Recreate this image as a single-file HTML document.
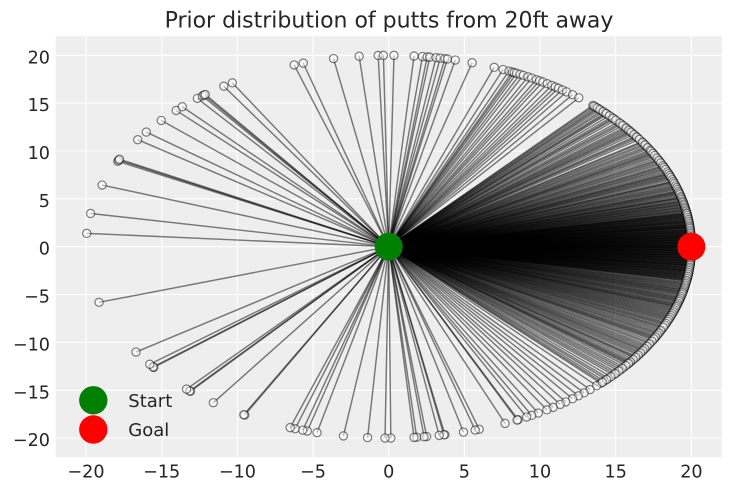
<!DOCTYPE html>
<html><head><meta charset="utf-8"><style>
html,body{margin:0;padding:0;background:#fff;}
svg{display:block;font-family:"DejaVu Sans","Liberation Sans",sans-serif;}
.L line{vector-effect:non-scaling-stroke;}
</style></head><body>
<svg width="731" height="491" viewBox="0 0 731 491" xmlns="http://www.w3.org/2000/svg">
<defs><circle id="c" r="4.1" transform="scale(.066068 .104515)"/></defs>
<rect width="731" height="491" fill="#fff"/>
<rect x="55.7" y="36.2" width="666" height="421" fill="#eeeeee"/>
<g stroke="#fff" stroke-width="1.1">
<line x1="85.98" y1="36.2" x2="85.98" y2="457.2"/><line x1="161.7" y1="36.2" x2="161.7" y2="457.2"/><line x1="237.4" y1="36.2" x2="237.4" y2="457.2"/><line x1="313" y1="36.2" x2="313" y2="457.2"/><line x1="388.7" y1="36.2" x2="388.7" y2="457.2"/><line x1="464.4" y1="36.2" x2="464.4" y2="457.2"/><line x1="540" y1="36.2" x2="540" y2="457.2"/><line x1="615.7" y1="36.2" x2="615.7" y2="457.2"/><line x1="691.4" y1="36.2" x2="691.4" y2="457.2"/>
<line x1="55.7" y1="55.3" x2="721.7" y2="55.3"/><line x1="55.7" y1="103.1" x2="721.7" y2="103.1"/><line x1="55.7" y1="151" x2="721.7" y2="151"/><line x1="55.7" y1="198.9" x2="721.7" y2="198.9"/><line x1="55.7" y1="246.7" x2="721.7" y2="246.7"/><line x1="55.7" y1="294.5" x2="721.7" y2="294.5"/><line x1="55.7" y1="342.4" x2="721.7" y2="342.4"/><line x1="55.7" y1="390.3" x2="721.7" y2="390.3"/><line x1="55.7" y1="438.1" x2="721.7" y2="438.1"/>
</g>
<g transform="translate(388.7 246.7) scale(15.136 -9.568)">
<g class="L" stroke="#000" stroke-opacity=".5" stroke-width="1.45" fill="none">
<line x2="20" transform="rotate(176)"/><line x2="20" transform="rotate(170)"/><line x2="20" transform="rotate(161.2)"/><line x2="20" transform="rotate(153.5)"/><line x2="20" transform="rotate(153.1)"/><line x2="20" transform="rotate(152.8)"/><line x2="20" transform="rotate(146)"/><line x2="20" transform="rotate(143.2)"/><line x2="20" transform="rotate(138.7)"/><line x2="20" transform="rotate(134.6)"/><line x2="20" transform="rotate(133)"/><line x2="20" transform="rotate(129.2)"/><line x2="20" transform="rotate(128)"/><line x2="20" transform="rotate(127.6)"/><line x2="20" transform="rotate(127.3)"/><line x2="20" transform="rotate(123)"/><line x2="20" transform="rotate(121.1)"/><line x2="20" transform="rotate(108.2)"/><line x2="20" transform="rotate(106.4)"/><line x2="20" transform="rotate(100.5)"/><line x2="20" transform="rotate(95.6)"/><line x2="20" transform="rotate(92)"/><line x2="20" transform="rotate(91)"/><line x2="20" transform="rotate(89)"/><line x2="20" transform="rotate(85.2)"/><line x2="20" transform="rotate(83.6)"/><line x2="20" transform="rotate(82.7)"/><line x2="20" transform="rotate(82.2)"/><line x2="20" transform="rotate(81)"/><line x2="20" transform="rotate(80.2)"/><line x2="20" transform="rotate(79.3)"/><line x2="20" transform="rotate(78.8)"/><line x2="20" transform="rotate(77.3)"/><line x2="20" transform="rotate(74)"/><line x2="20" transform="rotate(69.6)"/><line x2="20" transform="rotate(67.8)"/><line x2="20" transform="rotate(66.6)"/><line x2="20" transform="rotate(65.9)"/><line x2="20" transform="rotate(65.5)"/><line x2="20" transform="rotate(65)"/><line x2="20" transform="rotate(64.3)"/><line x2="20" transform="rotate(63.6)"/><line x2="20" transform="rotate(62.6)"/><line x2="20" transform="rotate(61.8)"/><line x2="20" transform="rotate(60.8)"/><line x2="20" transform="rotate(60.1)"/><line x2="20" transform="rotate(59.4)"/><line x2="20" transform="rotate(58.4)"/><line x2="20" transform="rotate(57.4)"/><line x2="20" transform="rotate(56.6)"/><line x2="20" transform="rotate(55.9)"/><line x2="20" transform="rotate(55)"/><line x2="20" transform="rotate(54)"/><line x2="20" transform="rotate(52.6)"/><line x2="20" transform="rotate(51.1)"/>
<line x2="20" transform="rotate(47.6)"/><line x2="20" transform="rotate(46.9)"/><line x2="20" transform="rotate(46.2)"/><line x2="20" transform="rotate(45.3)"/><line x2="20" transform="rotate(44.4)"/><line x2="20" transform="rotate(43.8)"/><line x2="20" transform="rotate(42.6)"/><line x2="20" transform="rotate(41.9)"/><line x2="20" transform="rotate(40.7)"/><line x2="20" transform="rotate(39.8)"/><line x2="20" transform="rotate(38.7)"/><line x2="20" transform="rotate(37.9)"/><line x2="20" transform="rotate(37.1)"/><line x2="20" transform="rotate(36.4)"/><line x2="20" transform="rotate(35.3)"/><line x2="20" transform="rotate(34.6)"/><line x2="20" transform="rotate(33.3)"/><line x2="20" transform="rotate(32.5)"/><line x2="20" transform="rotate(31.6)"/><line x2="20" transform="rotate(30.8)"/><line x2="20" transform="rotate(29.5)"/><line x2="20" transform="rotate(28.9)"/><line x2="20" transform="rotate(28.1)"/><line x2="20" transform="rotate(27.1)"/><line x2="20" transform="rotate(26.4)"/><line x2="20" transform="rotate(25.6)"/>
<line x2="20" transform="rotate(24.8)"/><line x2="20" transform="rotate(24.1)"/><line x2="20" transform="rotate(23.4)"/><line x2="20" transform="rotate(22.6)"/><line x2="20" transform="rotate(22.1)"/><line x2="20" transform="rotate(21.5)"/><line x2="20" transform="rotate(20.9)"/><line x2="20" transform="rotate(20)"/><line x2="20" transform="rotate(19.6)"/><line x2="20" transform="rotate(18.9)"/><line x2="20" transform="rotate(18.3)"/><line x2="20" transform="rotate(17.7)"/><line x2="20" transform="rotate(17)"/><line x2="20" transform="rotate(16.6)"/><line x2="20" transform="rotate(16.1)"/><line x2="20" transform="rotate(15.5)"/><line x2="20" transform="rotate(14.9)"/><line x2="20" transform="rotate(14.6)"/><line x2="20" transform="rotate(14)"/><line x2="20" transform="rotate(13.6)"/><line x2="20" transform="rotate(13.1)"/><line x2="20" transform="rotate(12.7)"/><line x2="20" transform="rotate(12.2)"/><line x2="20" transform="rotate(11.8)"/><line x2="20" transform="rotate(11.3)"/><line x2="20" transform="rotate(10.9)"/><line x2="20" transform="rotate(10.4)"/><line x2="20" transform="rotate(10.1)"/>
<line x2="20" transform="rotate(9.8)"/><line x2="20" transform="rotate(9.5)"/><line x2="20" transform="rotate(9.2)"/><line x2="20" transform="rotate(8.9)"/><line x2="20" transform="rotate(8.6)"/><line x2="20" transform="rotate(8.3)"/><line x2="20" transform="rotate(8)"/><line x2="20" transform="rotate(7.7)"/><line x2="20" transform="rotate(7.5)"/><line x2="20" transform="rotate(7.2)"/><line x2="20" transform="rotate(6.9)"/><line x2="20" transform="rotate(6.6)"/><line x2="20" transform="rotate(6.4)"/><line x2="20" transform="rotate(6.1)"/><line x2="20" transform="rotate(5.9)"/><line x2="20" transform="rotate(5.7)"/><line x2="20" transform="rotate(5.4)"/><line x2="20" transform="rotate(5.1)"/><line x2="20" transform="rotate(4.9)"/><line x2="20" transform="rotate(4.6)"/><line x2="20" transform="rotate(4.4)"/><line x2="20" transform="rotate(4.1)"/><line x2="20" transform="rotate(3.9)"/><line x2="20" transform="rotate(3.6)"/><line x2="20" transform="rotate(3.4)"/><line x2="20" transform="rotate(3.2)"/><line x2="20" transform="rotate(2.9)"/><line x2="20" transform="rotate(2.7)"/><line x2="20" transform="rotate(2.5)"/><line x2="20" transform="rotate(2.2)"/><line x2="20" transform="rotate(2)"/><line x2="20" transform="rotate(1.8)"/><line x2="20" transform="rotate(1.5)"/><line x2="20" transform="rotate(1.3)"/><line x2="20" transform="rotate(1.1)"/><line x2="20" transform="rotate(0.9)"/><line x2="20" transform="rotate(0.6)"/><line x2="20" transform="rotate(0.4)"/><line x2="20" transform="rotate(0.2)"/><line x2="20" transform="rotate(0)"/>
<line x2="20" transform="rotate(-0.1)"/><line x2="20" transform="rotate(-0.3)"/><line x2="20" transform="rotate(-0.5)"/><line x2="20" transform="rotate(-0.8)"/><line x2="20" transform="rotate(-1)"/><line x2="20" transform="rotate(-1.2)"/><line x2="20" transform="rotate(-1.4)"/><line x2="20" transform="rotate(-1.7)"/><line x2="20" transform="rotate(-1.9)"/><line x2="20" transform="rotate(-2.1)"/><line x2="20" transform="rotate(-2.4)"/><line x2="20" transform="rotate(-2.6)"/><line x2="20" transform="rotate(-2.8)"/><line x2="20" transform="rotate(-3.1)"/><line x2="20" transform="rotate(-3.3)"/><line x2="20" transform="rotate(-3.5)"/><line x2="20" transform="rotate(-3.8)"/><line x2="20" transform="rotate(-4)"/><line x2="20" transform="rotate(-4.3)"/><line x2="20" transform="rotate(-4.5)"/><line x2="20" transform="rotate(-4.8)"/><line x2="20" transform="rotate(-5)"/><line x2="20" transform="rotate(-5.3)"/><line x2="20" transform="rotate(-5.5)"/><line x2="20" transform="rotate(-5.7)"/><line x2="20" transform="rotate(-6)"/><line x2="20" transform="rotate(-6.3)"/><line x2="20" transform="rotate(-6.5)"/><line x2="20" transform="rotate(-6.8)"/><line x2="20" transform="rotate(-7.1)"/><line x2="20" transform="rotate(-7.3)"/><line x2="20" transform="rotate(-7.6)"/><line x2="20" transform="rotate(-7.9)"/><line x2="20" transform="rotate(-8.2)"/><line x2="20" transform="rotate(-8.5)"/><line x2="20" transform="rotate(-8.8)"/><line x2="20" transform="rotate(-9.1)"/><line x2="20" transform="rotate(-9.4)"/><line x2="20" transform="rotate(-9.7)"/><line x2="20" transform="rotate(-10)"/>
<line x2="20" transform="rotate(-10.3)"/><line x2="20" transform="rotate(-10.9)"/><line x2="20" transform="rotate(-11.4)"/><line x2="20" transform="rotate(-11.9)"/><line x2="20" transform="rotate(-12.4)"/><line x2="20" transform="rotate(-12.9)"/><line x2="20" transform="rotate(-13.3)"/><line x2="20" transform="rotate(-13.8)"/><line x2="20" transform="rotate(-14.3)"/><line x2="20" transform="rotate(-14.8)"/><line x2="20" transform="rotate(-15.4)"/><line x2="20" transform="rotate(-15.9)"/><line x2="20" transform="rotate(-16.4)"/><line x2="20" transform="rotate(-16.9)"/><line x2="20" transform="rotate(-17.5)"/><line x2="20" transform="rotate(-18)"/><line x2="20" transform="rotate(-18.4)"/><line x2="20" transform="rotate(-19)"/><line x2="20" transform="rotate(-19.6)"/><line x2="20" transform="rotate(-20.2)"/><line x2="20" transform="rotate(-20.8)"/><line x2="20" transform="rotate(-21.4)"/><line x2="20" transform="rotate(-22)"/><line x2="20" transform="rotate(-22.6)"/><line x2="20" transform="rotate(-23.3)"/><line x2="20" transform="rotate(-23.9)"/><line x2="20" transform="rotate(-24.6)"/><line x2="20" transform="rotate(-25.2)"/>
<line x2="20" transform="rotate(-25.6)"/><line x2="20" transform="rotate(-26.4)"/><line x2="20" transform="rotate(-27.1)"/><line x2="20" transform="rotate(-27.9)"/><line x2="20" transform="rotate(-28.5)"/><line x2="20" transform="rotate(-29.1)"/><line x2="20" transform="rotate(-30.1)"/><line x2="20" transform="rotate(-31)"/><line x2="20" transform="rotate(-31.8)"/><line x2="20" transform="rotate(-32.6)"/><line x2="20" transform="rotate(-33.3)"/><line x2="20" transform="rotate(-34.1)"/><line x2="20" transform="rotate(-35)"/><line x2="20" transform="rotate(-35.6)"/><line x2="20" transform="rotate(-36.6)"/><line x2="20" transform="rotate(-37.3)"/><line x2="20" transform="rotate(-37.9)"/><line x2="20" transform="rotate(-39)"/><line x2="20" transform="rotate(-40)"/><line x2="20" transform="rotate(-41.1)"/><line x2="20" transform="rotate(-42.1)"/><line x2="20" transform="rotate(-43.5)"/><line x2="20" transform="rotate(-44.6)"/><line x2="20" transform="rotate(-45.5)"/>
<line x2="20" transform="rotate(-46.6)"/><line x2="20" transform="rotate(-48.3)"/><line x2="20" transform="rotate(-49.8)"/><line x2="20" transform="rotate(-51.2)"/><line x2="20" transform="rotate(-52.6)"/><line x2="20" transform="rotate(-54.2)"/><line x2="20" transform="rotate(-55.5)"/><line x2="20" transform="rotate(-57.1)"/><line x2="20" transform="rotate(-58.5)"/><line x2="20" transform="rotate(-60.4)"/><line x2="20" transform="rotate(-61.8)"/><line x2="20" transform="rotate(-62.9)"/><line x2="20" transform="rotate(-64.7)"/><line x2="20" transform="rotate(-64.9)"/><line x2="20" transform="rotate(-67.4)"/><line x2="20" transform="rotate(-72.6)"/><line x2="20" transform="rotate(-73.4)"/><line x2="20" transform="rotate(-75.7)"/><line x2="20" transform="rotate(-79.3)"/><line x2="20" transform="rotate(-79.5)"/><line x2="20" transform="rotate(-80.4)"/><line x2="20" transform="rotate(-82.8)"/><line x2="20" transform="rotate(-83.3)"/><line x2="20" transform="rotate(-84.7)"/><line x2="20" transform="rotate(-85.2)"/><line x2="20" transform="rotate(-89.6)"/><line x2="20" transform="rotate(-90.7)"/><line x2="20" transform="rotate(-94)"/><line x2="20" transform="rotate(-98.6)"/><line x2="20" transform="rotate(-103.7)"/><line x2="20" transform="rotate(-105.6)"/><line x2="20" transform="rotate(-106.5)"/><line x2="20" transform="rotate(-108)"/><line x2="20" transform="rotate(-109)"/><line x2="20" transform="rotate(-118.4)"/><line x2="20" transform="rotate(-118.6)"/><line x2="20" transform="rotate(-125.4)"/><line x2="20" transform="rotate(-130.9)"/><line x2="20" transform="rotate(-131.1)"/><line x2="20" transform="rotate(-131.9)"/><line x2="20" transform="rotate(-140.9)"/><line x2="20" transform="rotate(-141.1)"/><line x2="20" transform="rotate(-142.1)"/><line x2="20" transform="rotate(-146.6)"/><line x2="20" transform="rotate(-163.1)"/>
<line x2="20" transform="rotate(47.3)"/><line x2="20" transform="rotate(46.5)"/><line x2="20" transform="rotate(45.8)"/><line x2="20" transform="rotate(44.9)"/><line x2="20" transform="rotate(44.1)"/><line x2="20" transform="rotate(43.2)"/><line x2="20" transform="rotate(42.2)"/><line x2="20" transform="rotate(41.4)"/><line x2="20" transform="rotate(40.2)"/><line x2="20" transform="rotate(39.3)"/><line x2="20" transform="rotate(38.3)"/><line x2="20" transform="rotate(37.5)"/><line x2="20" transform="rotate(36.8)"/><line x2="20" transform="rotate(35.9)"/><line x2="20" transform="rotate(35)"/><line x2="20" transform="rotate(34.1)"/><line x2="20" transform="rotate(33)"/><line x2="20" transform="rotate(32.1)"/><line x2="20" transform="rotate(31.2)"/><line x2="20" transform="rotate(30.3)"/><line x2="20" transform="rotate(29.9)"/><line x2="20" transform="rotate(29.2)"/><line x2="20" transform="rotate(28.5)"/><line x2="20" transform="rotate(27.6)"/><line x2="20" transform="rotate(26.8)"/><line x2="20" transform="rotate(26)"/>
<line x2="20" transform="rotate(25.1)"/><line x2="20" transform="rotate(24.5)"/><line x2="20" transform="rotate(23.8)"/><line x2="20" transform="rotate(23)"/><line x2="20" transform="rotate(22.4)"/><line x2="20" transform="rotate(21.8)"/><line x2="20" transform="rotate(21.2)"/><line x2="20" transform="rotate(20.5)"/><line x2="20" transform="rotate(19.9)"/><line x2="20" transform="rotate(19.3)"/><line x2="20" transform="rotate(18.6)"/><line x2="20" transform="rotate(18)"/><line x2="20" transform="rotate(17.4)"/><line x2="20" transform="rotate(16.8)"/><line x2="20" transform="rotate(16.3)"/><line x2="20" transform="rotate(15.8)"/><line x2="20" transform="rotate(15.2)"/><line x2="20" transform="rotate(14.8)"/><line x2="20" transform="rotate(14.3)"/><line x2="20" transform="rotate(13.8)"/><line x2="20" transform="rotate(13.4)"/><line x2="20" transform="rotate(12.9)"/><line x2="20" transform="rotate(12.5)"/><line x2="20" transform="rotate(12)"/><line x2="20" transform="rotate(11.6)"/><line x2="20" transform="rotate(11.1)"/><line x2="20" transform="rotate(10.7)"/><line x2="20" transform="rotate(10.2)"/>
<line x2="20" transform="rotate(9.9)"/><line x2="20" transform="rotate(9.65)"/><line x2="20" transform="rotate(9.35)"/><line x2="20" transform="rotate(9.05)"/><line x2="20" transform="rotate(8.75)"/><line x2="20" transform="rotate(8.45)"/><line x2="20" transform="rotate(8.15)"/><line x2="20" transform="rotate(7.85)"/><line x2="20" transform="rotate(7.6)"/><line x2="20" transform="rotate(7.35)"/><line x2="20" transform="rotate(7.05)"/><line x2="20" transform="rotate(6.75)"/><line x2="20" transform="rotate(6.5)"/><line x2="20" transform="rotate(6.25)"/><line x2="20" transform="rotate(6)"/><line x2="20" transform="rotate(5.8)"/><line x2="20" transform="rotate(5.55)"/><line x2="20" transform="rotate(5.25)"/><line x2="20" transform="rotate(5)"/><line x2="20" transform="rotate(4.75)"/><line x2="20" transform="rotate(4.5)"/><line x2="20" transform="rotate(4.25)"/><line x2="20" transform="rotate(4)"/><line x2="20" transform="rotate(3.75)"/><line x2="20" transform="rotate(3.5)"/><line x2="20" transform="rotate(3.3)"/><line x2="20" transform="rotate(3.05)"/><line x2="20" transform="rotate(2.8)"/><line x2="20" transform="rotate(2.6)"/><line x2="20" transform="rotate(2.35)"/><line x2="20" transform="rotate(2.1)"/><line x2="20" transform="rotate(1.9)"/><line x2="20" transform="rotate(1.65)"/><line x2="20" transform="rotate(1.4)"/><line x2="20" transform="rotate(1.2)"/><line x2="20" transform="rotate(1)"/><line x2="20" transform="rotate(0.75)"/><line x2="20" transform="rotate(0.5)"/><line x2="20" transform="rotate(0.3)"/><line x2="20" transform="rotate(0.1)"/>
<line x2="20" transform="rotate(-0.2)"/><line x2="20" transform="rotate(-0.4)"/><line x2="20" transform="rotate(-0.65)"/><line x2="20" transform="rotate(-0.9)"/><line x2="20" transform="rotate(-1.1)"/><line x2="20" transform="rotate(-1.3)"/><line x2="20" transform="rotate(-1.55)"/><line x2="20" transform="rotate(-1.8)"/><line x2="20" transform="rotate(-2)"/><line x2="20" transform="rotate(-2.25)"/><line x2="20" transform="rotate(-2.5)"/><line x2="20" transform="rotate(-2.7)"/><line x2="20" transform="rotate(-2.95)"/><line x2="20" transform="rotate(-3.2)"/><line x2="20" transform="rotate(-3.4)"/><line x2="20" transform="rotate(-3.65)"/><line x2="20" transform="rotate(-3.9)"/><line x2="20" transform="rotate(-4.15)"/><line x2="20" transform="rotate(-4.4)"/><line x2="20" transform="rotate(-4.65)"/><line x2="20" transform="rotate(-4.9)"/><line x2="20" transform="rotate(-5.15)"/><line x2="20" transform="rotate(-5.4)"/><line x2="20" transform="rotate(-5.6)"/><line x2="20" transform="rotate(-5.85)"/><line x2="20" transform="rotate(-6.15)"/><line x2="20" transform="rotate(-6.4)"/><line x2="20" transform="rotate(-6.65)"/><line x2="20" transform="rotate(-6.95)"/><line x2="20" transform="rotate(-7.2)"/><line x2="20" transform="rotate(-7.45)"/><line x2="20" transform="rotate(-7.75)"/><line x2="20" transform="rotate(-8.05)"/><line x2="20" transform="rotate(-8.35)"/><line x2="20" transform="rotate(-8.65)"/><line x2="20" transform="rotate(-8.95)"/><line x2="20" transform="rotate(-9.25)"/><line x2="20" transform="rotate(-9.55)"/><line x2="20" transform="rotate(-9.85)"/><line x2="20" transform="rotate(-10.15)"/>
<line x2="20" transform="rotate(-10.6)"/><line x2="20" transform="rotate(-11.1)"/><line x2="20" transform="rotate(-11.6)"/><line x2="20" transform="rotate(-12.1)"/><line x2="20" transform="rotate(-12.6)"/><line x2="20" transform="rotate(-13.1)"/><line x2="20" transform="rotate(-13.6)"/><line x2="20" transform="rotate(-14)"/><line x2="20" transform="rotate(-14.5)"/><line x2="20" transform="rotate(-15.1)"/><line x2="20" transform="rotate(-15.6)"/><line x2="20" transform="rotate(-16.1)"/><line x2="20" transform="rotate(-16.6)"/><line x2="20" transform="rotate(-17.2)"/><line x2="20" transform="rotate(-17.7)"/><line x2="20" transform="rotate(-18.2)"/><line x2="20" transform="rotate(-18.7)"/><line x2="20" transform="rotate(-19.3)"/><line x2="20" transform="rotate(-19.9)"/><line x2="20" transform="rotate(-20.5)"/><line x2="20" transform="rotate(-21.1)"/><line x2="20" transform="rotate(-21.7)"/><line x2="20" transform="rotate(-22.3)"/><line x2="20" transform="rotate(-22.9)"/><line x2="20" transform="rotate(-23.6)"/><line x2="20" transform="rotate(-24.2)"/><line x2="20" transform="rotate(-24.9)"/>
<line x2="20" transform="rotate(-26)"/><line x2="20" transform="rotate(-26.8)"/><line x2="20" transform="rotate(-27.5)"/><line x2="20" transform="rotate(-28.2)"/><line x2="20" transform="rotate(-28.8)"/><line x2="20" transform="rotate(-29.6)"/><line x2="20" transform="rotate(-30.5)"/><line x2="20" transform="rotate(-31.4)"/><line x2="20" transform="rotate(-32.2)"/><line x2="20" transform="rotate(-32.9)"/><line x2="20" transform="rotate(-33.7)"/><line x2="20" transform="rotate(-34.5)"/><line x2="20" transform="rotate(-35.3)"/><line x2="20" transform="rotate(-36.1)"/><line x2="20" transform="rotate(-37)"/><line x2="20" transform="rotate(-37.6)"/><line x2="20" transform="rotate(-38.4)"/><line x2="20" transform="rotate(-39.5)"/><line x2="20" transform="rotate(-40.5)"/><line x2="20" transform="rotate(-41.6)"/><line x2="20" transform="rotate(-42.8)"/><line x2="20" transform="rotate(-44)"/><line x2="20" transform="rotate(-45.1)"/>
</g>
<g fill="#fff" fill-opacity=".5" stroke="#000" stroke-opacity=".5" stroke-width="1.2">
<use href="#c" transform="rotate(176) translate(20) rotate(-176)"/><use href="#c" transform="rotate(170) translate(20) rotate(-170)"/><use href="#c" transform="rotate(161.2) translate(20) rotate(-161.2)"/><use href="#c" transform="rotate(153.5) translate(20) rotate(-153.5)"/><use href="#c" transform="rotate(153.1) translate(20) rotate(-153.1)"/><use href="#c" transform="rotate(152.8) translate(20) rotate(-152.8)"/><use href="#c" transform="rotate(146) translate(20) rotate(-146)"/><use href="#c" transform="rotate(143.2) translate(20) rotate(-143.2)"/><use href="#c" transform="rotate(138.7) translate(20) rotate(-138.7)"/><use href="#c" transform="rotate(134.6) translate(20) rotate(-134.6)"/><use href="#c" transform="rotate(133) translate(20) rotate(-133)"/><use href="#c" transform="rotate(129.2) translate(20) rotate(-129.2)"/><use href="#c" transform="rotate(128) translate(20) rotate(-128)"/><use href="#c" transform="rotate(127.6) translate(20) rotate(-127.6)"/><use href="#c" transform="rotate(127.3) translate(20) rotate(-127.3)"/><use href="#c" transform="rotate(123) translate(20) rotate(-123)"/><use href="#c" transform="rotate(121.1) translate(20) rotate(-121.1)"/><use href="#c" transform="rotate(108.2) translate(20) rotate(-108.2)"/><use href="#c" transform="rotate(106.4) translate(20) rotate(-106.4)"/><use href="#c" transform="rotate(100.5) translate(20) rotate(-100.5)"/><use href="#c" transform="rotate(95.6) translate(20) rotate(-95.6)"/><use href="#c" transform="rotate(92) translate(20) rotate(-92)"/><use href="#c" transform="rotate(91) translate(20) rotate(-91)"/><use href="#c" transform="rotate(89) translate(20) rotate(-89)"/><use href="#c" transform="rotate(85.2) translate(20) rotate(-85.2)"/><use href="#c" transform="rotate(83.6) translate(20) rotate(-83.6)"/><use href="#c" transform="rotate(82.7) translate(20) rotate(-82.7)"/><use href="#c" transform="rotate(82.2) translate(20) rotate(-82.2)"/><use href="#c" transform="rotate(81) translate(20) rotate(-81)"/><use href="#c" transform="rotate(80.2) translate(20) rotate(-80.2)"/><use href="#c" transform="rotate(79.3) translate(20) rotate(-79.3)"/><use href="#c" transform="rotate(78.8) translate(20) rotate(-78.8)"/><use href="#c" transform="rotate(77.3) translate(20) rotate(-77.3)"/><use href="#c" transform="rotate(74) translate(20) rotate(-74)"/><use href="#c" transform="rotate(69.6) translate(20) rotate(-69.6)"/><use href="#c" transform="rotate(67.8) translate(20) rotate(-67.8)"/><use href="#c" transform="rotate(66.6) translate(20) rotate(-66.6)"/><use href="#c" transform="rotate(65.9) translate(20) rotate(-65.9)"/><use href="#c" transform="rotate(65.5) translate(20) rotate(-65.5)"/><use href="#c" transform="rotate(65) translate(20) rotate(-65)"/><use href="#c" transform="rotate(64.3) translate(20) rotate(-64.3)"/><use href="#c" transform="rotate(63.6) translate(20) rotate(-63.6)"/><use href="#c" transform="rotate(62.6) translate(20) rotate(-62.6)"/><use href="#c" transform="rotate(61.8) translate(20) rotate(-61.8)"/><use href="#c" transform="rotate(60.8) translate(20) rotate(-60.8)"/><use href="#c" transform="rotate(60.1) translate(20) rotate(-60.1)"/><use href="#c" transform="rotate(59.4) translate(20) rotate(-59.4)"/><use href="#c" transform="rotate(58.4) translate(20) rotate(-58.4)"/><use href="#c" transform="rotate(57.4) translate(20) rotate(-57.4)"/><use href="#c" transform="rotate(56.6) translate(20) rotate(-56.6)"/><use href="#c" transform="rotate(55.9) translate(20) rotate(-55.9)"/><use href="#c" transform="rotate(55) translate(20) rotate(-55)"/><use href="#c" transform="rotate(54) translate(20) rotate(-54)"/><use href="#c" transform="rotate(52.6) translate(20) rotate(-52.6)"/><use href="#c" transform="rotate(51.1) translate(20) rotate(-51.1)"/>
<use href="#c" transform="rotate(47.6) translate(20) rotate(-47.6)"/><use href="#c" transform="rotate(46.9) translate(20) rotate(-46.9)"/><use href="#c" transform="rotate(46.2) translate(20) rotate(-46.2)"/><use href="#c" transform="rotate(45.3) translate(20) rotate(-45.3)"/><use href="#c" transform="rotate(44.4) translate(20) rotate(-44.4)"/><use href="#c" transform="rotate(43.8) translate(20) rotate(-43.8)"/><use href="#c" transform="rotate(42.6) translate(20) rotate(-42.6)"/><use href="#c" transform="rotate(41.9) translate(20) rotate(-41.9)"/><use href="#c" transform="rotate(40.7) translate(20) rotate(-40.7)"/><use href="#c" transform="rotate(39.8) translate(20) rotate(-39.8)"/><use href="#c" transform="rotate(38.7) translate(20) rotate(-38.7)"/><use href="#c" transform="rotate(37.9) translate(20) rotate(-37.9)"/><use href="#c" transform="rotate(37.1) translate(20) rotate(-37.1)"/><use href="#c" transform="rotate(36.4) translate(20) rotate(-36.4)"/><use href="#c" transform="rotate(35.3) translate(20) rotate(-35.3)"/><use href="#c" transform="rotate(34.6) translate(20) rotate(-34.6)"/><use href="#c" transform="rotate(33.3) translate(20) rotate(-33.3)"/><use href="#c" transform="rotate(32.5) translate(20) rotate(-32.5)"/><use href="#c" transform="rotate(31.6) translate(20) rotate(-31.6)"/><use href="#c" transform="rotate(30.8) translate(20) rotate(-30.8)"/><use href="#c" transform="rotate(29.5) translate(20) rotate(-29.5)"/><use href="#c" transform="rotate(28.9) translate(20) rotate(-28.9)"/><use href="#c" transform="rotate(28.1) translate(20) rotate(-28.1)"/><use href="#c" transform="rotate(27.1) translate(20) rotate(-27.1)"/><use href="#c" transform="rotate(26.4) translate(20) rotate(-26.4)"/><use href="#c" transform="rotate(25.6) translate(20) rotate(-25.6)"/>
<use href="#c" transform="rotate(24.8) translate(20) rotate(-24.8)"/><use href="#c" transform="rotate(24.1) translate(20) rotate(-24.1)"/><use href="#c" transform="rotate(23.4) translate(20) rotate(-23.4)"/><use href="#c" transform="rotate(22.6) translate(20) rotate(-22.6)"/><use href="#c" transform="rotate(22.1) translate(20) rotate(-22.1)"/><use href="#c" transform="rotate(21.5) translate(20) rotate(-21.5)"/><use href="#c" transform="rotate(20.9) translate(20) rotate(-20.9)"/><use href="#c" transform="rotate(20) translate(20) rotate(-20)"/><use href="#c" transform="rotate(19.6) translate(20) rotate(-19.6)"/><use href="#c" transform="rotate(18.9) translate(20) rotate(-18.9)"/><use href="#c" transform="rotate(18.3) translate(20) rotate(-18.3)"/><use href="#c" transform="rotate(17.7) translate(20) rotate(-17.7)"/><use href="#c" transform="rotate(17) translate(20) rotate(-17)"/><use href="#c" transform="rotate(16.6) translate(20) rotate(-16.6)"/><use href="#c" transform="rotate(16.1) translate(20) rotate(-16.1)"/><use href="#c" transform="rotate(15.5) translate(20) rotate(-15.5)"/><use href="#c" transform="rotate(14.9) translate(20) rotate(-14.9)"/><use href="#c" transform="rotate(14.6) translate(20) rotate(-14.6)"/><use href="#c" transform="rotate(14) translate(20) rotate(-14)"/><use href="#c" transform="rotate(13.6) translate(20) rotate(-13.6)"/><use href="#c" transform="rotate(13.1) translate(20) rotate(-13.1)"/><use href="#c" transform="rotate(12.7) translate(20) rotate(-12.7)"/><use href="#c" transform="rotate(12.2) translate(20) rotate(-12.2)"/><use href="#c" transform="rotate(11.8) translate(20) rotate(-11.8)"/><use href="#c" transform="rotate(11.3) translate(20) rotate(-11.3)"/><use href="#c" transform="rotate(10.9) translate(20) rotate(-10.9)"/><use href="#c" transform="rotate(10.4) translate(20) rotate(-10.4)"/><use href="#c" transform="rotate(10.1) translate(20) rotate(-10.1)"/>
<use href="#c" transform="rotate(9.8) translate(20) rotate(-9.8)"/><use href="#c" transform="rotate(9.5) translate(20) rotate(-9.5)"/><use href="#c" transform="rotate(9.2) translate(20) rotate(-9.2)"/><use href="#c" transform="rotate(8.9) translate(20) rotate(-8.9)"/><use href="#c" transform="rotate(8.6) translate(20) rotate(-8.6)"/><use href="#c" transform="rotate(8.3) translate(20) rotate(-8.3)"/><use href="#c" transform="rotate(8) translate(20) rotate(-8)"/><use href="#c" transform="rotate(7.7) translate(20) rotate(-7.7)"/><use href="#c" transform="rotate(7.5) translate(20) rotate(-7.5)"/><use href="#c" transform="rotate(7.2) translate(20) rotate(-7.2)"/><use href="#c" transform="rotate(6.9) translate(20) rotate(-6.9)"/><use href="#c" transform="rotate(6.6) translate(20) rotate(-6.6)"/><use href="#c" transform="rotate(6.4) translate(20) rotate(-6.4)"/><use href="#c" transform="rotate(6.1) translate(20) rotate(-6.1)"/><use href="#c" transform="rotate(5.9) translate(20) rotate(-5.9)"/><use href="#c" transform="rotate(5.7) translate(20) rotate(-5.7)"/><use href="#c" transform="rotate(5.4) translate(20) rotate(-5.4)"/><use href="#c" transform="rotate(5.1) translate(20) rotate(-5.1)"/><use href="#c" transform="rotate(4.9) translate(20) rotate(-4.9)"/><use href="#c" transform="rotate(4.6) translate(20) rotate(-4.6)"/><use href="#c" transform="rotate(4.4) translate(20) rotate(-4.4)"/><use href="#c" transform="rotate(4.1) translate(20) rotate(-4.1)"/><use href="#c" transform="rotate(3.9) translate(20) rotate(-3.9)"/><use href="#c" transform="rotate(3.6) translate(20) rotate(-3.6)"/><use href="#c" transform="rotate(3.4) translate(20) rotate(-3.4)"/><use href="#c" transform="rotate(3.2) translate(20) rotate(-3.2)"/><use href="#c" transform="rotate(2.9) translate(20) rotate(-2.9)"/><use href="#c" transform="rotate(2.7) translate(20) rotate(-2.7)"/><use href="#c" transform="rotate(2.5) translate(20) rotate(-2.5)"/><use href="#c" transform="rotate(2.2) translate(20) rotate(-2.2)"/><use href="#c" transform="rotate(2) translate(20) rotate(-2)"/><use href="#c" transform="rotate(1.8) translate(20) rotate(-1.8)"/><use href="#c" transform="rotate(1.5) translate(20) rotate(-1.5)"/><use href="#c" transform="rotate(1.3) translate(20) rotate(-1.3)"/><use href="#c" transform="rotate(1.1) translate(20) rotate(-1.1)"/><use href="#c" transform="rotate(0.9) translate(20) rotate(-0.9)"/><use href="#c" transform="rotate(0.6) translate(20) rotate(-0.6)"/><use href="#c" transform="rotate(0.4) translate(20) rotate(-0.4)"/><use href="#c" transform="rotate(0.2) translate(20) rotate(-0.2)"/><use href="#c" transform="translate(20)"/>
<use href="#c" transform="rotate(-0.1) translate(20) rotate(0.1)"/><use href="#c" transform="rotate(-0.3) translate(20) rotate(0.3)"/><use href="#c" transform="rotate(-0.5) translate(20) rotate(0.5)"/><use href="#c" transform="rotate(-0.8) translate(20) rotate(0.8)"/><use href="#c" transform="rotate(-1) translate(20) rotate(1)"/><use href="#c" transform="rotate(-1.2) translate(20) rotate(1.2)"/><use href="#c" transform="rotate(-1.4) translate(20) rotate(1.4)"/><use href="#c" transform="rotate(-1.7) translate(20) rotate(1.7)"/><use href="#c" transform="rotate(-1.9) translate(20) rotate(1.9)"/><use href="#c" transform="rotate(-2.1) translate(20) rotate(2.1)"/><use href="#c" transform="rotate(-2.4) translate(20) rotate(2.4)"/><use href="#c" transform="rotate(-2.6) translate(20) rotate(2.6)"/><use href="#c" transform="rotate(-2.8) translate(20) rotate(2.8)"/><use href="#c" transform="rotate(-3.1) translate(20) rotate(3.1)"/><use href="#c" transform="rotate(-3.3) translate(20) rotate(3.3)"/><use href="#c" transform="rotate(-3.5) translate(20) rotate(3.5)"/><use href="#c" transform="rotate(-3.8) translate(20) rotate(3.8)"/><use href="#c" transform="rotate(-4) translate(20) rotate(4)"/><use href="#c" transform="rotate(-4.3) translate(20) rotate(4.3)"/><use href="#c" transform="rotate(-4.5) translate(20) rotate(4.5)"/><use href="#c" transform="rotate(-4.8) translate(20) rotate(4.8)"/><use href="#c" transform="rotate(-5) translate(20) rotate(5)"/><use href="#c" transform="rotate(-5.3) translate(20) rotate(5.3)"/><use href="#c" transform="rotate(-5.5) translate(20) rotate(5.5)"/><use href="#c" transform="rotate(-5.7) translate(20) rotate(5.7)"/><use href="#c" transform="rotate(-6) translate(20) rotate(6)"/><use href="#c" transform="rotate(-6.3) translate(20) rotate(6.3)"/><use href="#c" transform="rotate(-6.5) translate(20) rotate(6.5)"/><use href="#c" transform="rotate(-6.8) translate(20) rotate(6.8)"/><use href="#c" transform="rotate(-7.1) translate(20) rotate(7.1)"/><use href="#c" transform="rotate(-7.3) translate(20) rotate(7.3)"/><use href="#c" transform="rotate(-7.6) translate(20) rotate(7.6)"/><use href="#c" transform="rotate(-7.9) translate(20) rotate(7.9)"/><use href="#c" transform="rotate(-8.2) translate(20) rotate(8.2)"/><use href="#c" transform="rotate(-8.5) translate(20) rotate(8.5)"/><use href="#c" transform="rotate(-8.8) translate(20) rotate(8.8)"/><use href="#c" transform="rotate(-9.1) translate(20) rotate(9.1)"/><use href="#c" transform="rotate(-9.4) translate(20) rotate(9.4)"/><use href="#c" transform="rotate(-9.7) translate(20) rotate(9.7)"/><use href="#c" transform="rotate(-10) translate(20) rotate(10)"/>
<use href="#c" transform="rotate(-10.3) translate(20) rotate(10.3)"/><use href="#c" transform="rotate(-10.9) translate(20) rotate(10.9)"/><use href="#c" transform="rotate(-11.4) translate(20) rotate(11.4)"/><use href="#c" transform="rotate(-11.9) translate(20) rotate(11.9)"/><use href="#c" transform="rotate(-12.4) translate(20) rotate(12.4)"/><use href="#c" transform="rotate(-12.9) translate(20) rotate(12.9)"/><use href="#c" transform="rotate(-13.3) translate(20) rotate(13.3)"/><use href="#c" transform="rotate(-13.8) translate(20) rotate(13.8)"/><use href="#c" transform="rotate(-14.3) translate(20) rotate(14.3)"/><use href="#c" transform="rotate(-14.8) translate(20) rotate(14.8)"/><use href="#c" transform="rotate(-15.4) translate(20) rotate(15.4)"/><use href="#c" transform="rotate(-15.9) translate(20) rotate(15.9)"/><use href="#c" transform="rotate(-16.4) translate(20) rotate(16.4)"/><use href="#c" transform="rotate(-16.9) translate(20) rotate(16.9)"/><use href="#c" transform="rotate(-17.5) translate(20) rotate(17.5)"/><use href="#c" transform="rotate(-18) translate(20) rotate(18)"/><use href="#c" transform="rotate(-18.4) translate(20) rotate(18.4)"/><use href="#c" transform="rotate(-19) translate(20) rotate(19)"/><use href="#c" transform="rotate(-19.6) translate(20) rotate(19.6)"/><use href="#c" transform="rotate(-20.2) translate(20) rotate(20.2)"/><use href="#c" transform="rotate(-20.8) translate(20) rotate(20.8)"/><use href="#c" transform="rotate(-21.4) translate(20) rotate(21.4)"/><use href="#c" transform="rotate(-22) translate(20) rotate(22)"/><use href="#c" transform="rotate(-22.6) translate(20) rotate(22.6)"/><use href="#c" transform="rotate(-23.3) translate(20) rotate(23.3)"/><use href="#c" transform="rotate(-23.9) translate(20) rotate(23.9)"/><use href="#c" transform="rotate(-24.6) translate(20) rotate(24.6)"/><use href="#c" transform="rotate(-25.2) translate(20) rotate(25.2)"/>
<use href="#c" transform="rotate(-25.6) translate(20) rotate(25.6)"/><use href="#c" transform="rotate(-26.4) translate(20) rotate(26.4)"/><use href="#c" transform="rotate(-27.1) translate(20) rotate(27.1)"/><use href="#c" transform="rotate(-27.9) translate(20) rotate(27.9)"/><use href="#c" transform="rotate(-28.5) translate(20) rotate(28.5)"/><use href="#c" transform="rotate(-29.1) translate(20) rotate(29.1)"/><use href="#c" transform="rotate(-30.1) translate(20) rotate(30.1)"/><use href="#c" transform="rotate(-31) translate(20) rotate(31)"/><use href="#c" transform="rotate(-31.8) translate(20) rotate(31.8)"/><use href="#c" transform="rotate(-32.6) translate(20) rotate(32.6)"/><use href="#c" transform="rotate(-33.3) translate(20) rotate(33.3)"/><use href="#c" transform="rotate(-34.1) translate(20) rotate(34.1)"/><use href="#c" transform="rotate(-35) translate(20) rotate(35)"/><use href="#c" transform="rotate(-35.6) translate(20) rotate(35.6)"/><use href="#c" transform="rotate(-36.6) translate(20) rotate(36.6)"/><use href="#c" transform="rotate(-37.3) translate(20) rotate(37.3)"/><use href="#c" transform="rotate(-37.9) translate(20) rotate(37.9)"/><use href="#c" transform="rotate(-39) translate(20) rotate(39)"/><use href="#c" transform="rotate(-40) translate(20) rotate(40)"/><use href="#c" transform="rotate(-41.1) translate(20) rotate(41.1)"/><use href="#c" transform="rotate(-42.1) translate(20) rotate(42.1)"/><use href="#c" transform="rotate(-43.5) translate(20) rotate(43.5)"/><use href="#c" transform="rotate(-44.6) translate(20) rotate(44.6)"/><use href="#c" transform="rotate(-45.5) translate(20) rotate(45.5)"/>
<use href="#c" transform="rotate(-46.6) translate(20) rotate(46.6)"/><use href="#c" transform="rotate(-48.3) translate(20) rotate(48.3)"/><use href="#c" transform="rotate(-49.8) translate(20) rotate(49.8)"/><use href="#c" transform="rotate(-51.2) translate(20) rotate(51.2)"/><use href="#c" transform="rotate(-52.6) translate(20) rotate(52.6)"/><use href="#c" transform="rotate(-54.2) translate(20) rotate(54.2)"/><use href="#c" transform="rotate(-55.5) translate(20) rotate(55.5)"/><use href="#c" transform="rotate(-57.1) translate(20) rotate(57.1)"/><use href="#c" transform="rotate(-58.5) translate(20) rotate(58.5)"/><use href="#c" transform="rotate(-60.4) translate(20) rotate(60.4)"/><use href="#c" transform="rotate(-61.8) translate(20) rotate(61.8)"/><use href="#c" transform="rotate(-62.9) translate(20) rotate(62.9)"/><use href="#c" transform="rotate(-64.7) translate(20) rotate(64.7)"/><use href="#c" transform="rotate(-64.9) translate(20) rotate(64.9)"/><use href="#c" transform="rotate(-67.4) translate(20) rotate(67.4)"/><use href="#c" transform="rotate(-72.6) translate(20) rotate(72.6)"/><use href="#c" transform="rotate(-73.4) translate(20) rotate(73.4)"/><use href="#c" transform="rotate(-75.7) translate(20) rotate(75.7)"/><use href="#c" transform="rotate(-79.3) translate(20) rotate(79.3)"/><use href="#c" transform="rotate(-79.5) translate(20) rotate(79.5)"/><use href="#c" transform="rotate(-80.4) translate(20) rotate(80.4)"/><use href="#c" transform="rotate(-82.8) translate(20) rotate(82.8)"/><use href="#c" transform="rotate(-83.3) translate(20) rotate(83.3)"/><use href="#c" transform="rotate(-84.7) translate(20) rotate(84.7)"/><use href="#c" transform="rotate(-85.2) translate(20) rotate(85.2)"/><use href="#c" transform="rotate(-89.6) translate(20) rotate(89.6)"/><use href="#c" transform="rotate(-90.7) translate(20) rotate(90.7)"/><use href="#c" transform="rotate(-94) translate(20) rotate(94)"/><use href="#c" transform="rotate(-98.6) translate(20) rotate(98.6)"/><use href="#c" transform="rotate(-103.7) translate(20) rotate(103.7)"/><use href="#c" transform="rotate(-105.6) translate(20) rotate(105.6)"/><use href="#c" transform="rotate(-106.5) translate(20) rotate(106.5)"/><use href="#c" transform="rotate(-108) translate(20) rotate(108)"/><use href="#c" transform="rotate(-109) translate(20) rotate(109)"/><use href="#c" transform="rotate(-118.4) translate(20) rotate(118.4)"/><use href="#c" transform="rotate(-118.6) translate(20) rotate(118.6)"/><use href="#c" transform="rotate(-125.4) translate(20) rotate(125.4)"/><use href="#c" transform="rotate(-130.9) translate(20) rotate(130.9)"/><use href="#c" transform="rotate(-131.1) translate(20) rotate(131.1)"/><use href="#c" transform="rotate(-131.9) translate(20) rotate(131.9)"/><use href="#c" transform="rotate(-140.9) translate(20) rotate(140.9)"/><use href="#c" transform="rotate(-141.1) translate(20) rotate(141.1)"/><use href="#c" transform="rotate(-142.1) translate(20) rotate(142.1)"/><use href="#c" transform="rotate(-146.6) translate(20) rotate(146.6)"/><use href="#c" transform="rotate(-163.1) translate(20) rotate(163.1)"/>
<use href="#c" transform="rotate(47.3) translate(20) rotate(-47.3)"/><use href="#c" transform="rotate(46.5) translate(20) rotate(-46.5)"/><use href="#c" transform="rotate(45.8) translate(20) rotate(-45.8)"/><use href="#c" transform="rotate(44.9) translate(20) rotate(-44.9)"/><use href="#c" transform="rotate(44.1) translate(20) rotate(-44.1)"/><use href="#c" transform="rotate(43.2) translate(20) rotate(-43.2)"/><use href="#c" transform="rotate(42.2) translate(20) rotate(-42.2)"/><use href="#c" transform="rotate(41.4) translate(20) rotate(-41.4)"/><use href="#c" transform="rotate(40.2) translate(20) rotate(-40.2)"/><use href="#c" transform="rotate(39.3) translate(20) rotate(-39.3)"/><use href="#c" transform="rotate(38.3) translate(20) rotate(-38.3)"/><use href="#c" transform="rotate(37.5) translate(20) rotate(-37.5)"/><use href="#c" transform="rotate(36.8) translate(20) rotate(-36.8)"/><use href="#c" transform="rotate(35.9) translate(20) rotate(-35.9)"/><use href="#c" transform="rotate(35) translate(20) rotate(-35)"/><use href="#c" transform="rotate(34.1) translate(20) rotate(-34.1)"/><use href="#c" transform="rotate(33) translate(20) rotate(-33)"/><use href="#c" transform="rotate(32.1) translate(20) rotate(-32.1)"/><use href="#c" transform="rotate(31.2) translate(20) rotate(-31.2)"/><use href="#c" transform="rotate(30.3) translate(20) rotate(-30.3)"/><use href="#c" transform="rotate(29.9) translate(20) rotate(-29.9)"/><use href="#c" transform="rotate(29.2) translate(20) rotate(-29.2)"/><use href="#c" transform="rotate(28.5) translate(20) rotate(-28.5)"/><use href="#c" transform="rotate(27.6) translate(20) rotate(-27.6)"/><use href="#c" transform="rotate(26.8) translate(20) rotate(-26.8)"/><use href="#c" transform="rotate(26) translate(20) rotate(-26)"/>
<use href="#c" transform="rotate(25.1) translate(20) rotate(-25.1)"/><use href="#c" transform="rotate(24.5) translate(20) rotate(-24.5)"/><use href="#c" transform="rotate(23.8) translate(20) rotate(-23.8)"/><use href="#c" transform="rotate(23) translate(20) rotate(-23)"/><use href="#c" transform="rotate(22.4) translate(20) rotate(-22.4)"/><use href="#c" transform="rotate(21.8) translate(20) rotate(-21.8)"/><use href="#c" transform="rotate(21.2) translate(20) rotate(-21.2)"/><use href="#c" transform="rotate(20.5) translate(20) rotate(-20.5)"/><use href="#c" transform="rotate(19.9) translate(20) rotate(-19.9)"/><use href="#c" transform="rotate(19.3) translate(20) rotate(-19.3)"/><use href="#c" transform="rotate(18.6) translate(20) rotate(-18.6)"/><use href="#c" transform="rotate(18) translate(20) rotate(-18)"/><use href="#c" transform="rotate(17.4) translate(20) rotate(-17.4)"/><use href="#c" transform="rotate(16.8) translate(20) rotate(-16.8)"/><use href="#c" transform="rotate(16.3) translate(20) rotate(-16.3)"/><use href="#c" transform="rotate(15.8) translate(20) rotate(-15.8)"/><use href="#c" transform="rotate(15.2) translate(20) rotate(-15.2)"/><use href="#c" transform="rotate(14.8) translate(20) rotate(-14.8)"/><use href="#c" transform="rotate(14.3) translate(20) rotate(-14.3)"/><use href="#c" transform="rotate(13.8) translate(20) rotate(-13.8)"/><use href="#c" transform="rotate(13.4) translate(20) rotate(-13.4)"/><use href="#c" transform="rotate(12.9) translate(20) rotate(-12.9)"/><use href="#c" transform="rotate(12.5) translate(20) rotate(-12.5)"/><use href="#c" transform="rotate(12) translate(20) rotate(-12)"/><use href="#c" transform="rotate(11.6) translate(20) rotate(-11.6)"/><use href="#c" transform="rotate(11.1) translate(20) rotate(-11.1)"/><use href="#c" transform="rotate(10.7) translate(20) rotate(-10.7)"/><use href="#c" transform="rotate(10.2) translate(20) rotate(-10.2)"/>
<use href="#c" transform="rotate(9.9) translate(20) rotate(-9.9)"/><use href="#c" transform="rotate(9.35) translate(20) rotate(-9.35)"/><use href="#c" transform="rotate(8.75) translate(20) rotate(-8.75)"/><use href="#c" transform="rotate(8.15) translate(20) rotate(-8.15)"/><use href="#c" transform="rotate(7.6) translate(20) rotate(-7.6)"/><use href="#c" transform="rotate(7.05) translate(20) rotate(-7.05)"/><use href="#c" transform="rotate(6.5) translate(20) rotate(-6.5)"/><use href="#c" transform="rotate(6) translate(20) rotate(-6)"/><use href="#c" transform="rotate(5.55) translate(20) rotate(-5.55)"/><use href="#c" transform="rotate(5) translate(20) rotate(-5)"/><use href="#c" transform="rotate(4.5) translate(20) rotate(-4.5)"/><use href="#c" transform="rotate(4) translate(20) rotate(-4)"/><use href="#c" transform="rotate(3.5) translate(20) rotate(-3.5)"/><use href="#c" transform="rotate(3.05) translate(20) rotate(-3.05)"/><use href="#c" transform="rotate(2.6) translate(20) rotate(-2.6)"/><use href="#c" transform="rotate(2.1) translate(20) rotate(-2.1)"/><use href="#c" transform="rotate(1.65) translate(20) rotate(-1.65)"/><use href="#c" transform="rotate(1.2) translate(20) rotate(-1.2)"/><use href="#c" transform="rotate(0.75) translate(20) rotate(-0.75)"/><use href="#c" transform="rotate(0.3) translate(20) rotate(-0.3)"/>
<use href="#c" transform="rotate(-0.4) translate(20) rotate(0.4)"/><use href="#c" transform="rotate(-0.9) translate(20) rotate(0.9)"/><use href="#c" transform="rotate(-1.3) translate(20) rotate(1.3)"/><use href="#c" transform="rotate(-1.8) translate(20) rotate(1.8)"/><use href="#c" transform="rotate(-2.25) translate(20) rotate(2.25)"/><use href="#c" transform="rotate(-2.7) translate(20) rotate(2.7)"/><use href="#c" transform="rotate(-3.2) translate(20) rotate(3.2)"/><use href="#c" transform="rotate(-3.65) translate(20) rotate(3.65)"/><use href="#c" transform="rotate(-4.15) translate(20) rotate(4.15)"/><use href="#c" transform="rotate(-4.65) translate(20) rotate(4.65)"/><use href="#c" transform="rotate(-5.15) translate(20) rotate(5.15)"/><use href="#c" transform="rotate(-5.6) translate(20) rotate(5.6)"/><use href="#c" transform="rotate(-6.15) translate(20) rotate(6.15)"/><use href="#c" transform="rotate(-6.65) translate(20) rotate(6.65)"/><use href="#c" transform="rotate(-7.2) translate(20) rotate(7.2)"/><use href="#c" transform="rotate(-7.75) translate(20) rotate(7.75)"/><use href="#c" transform="rotate(-8.35) translate(20) rotate(8.35)"/><use href="#c" transform="rotate(-8.95) translate(20) rotate(8.95)"/><use href="#c" transform="rotate(-9.55) translate(20) rotate(9.55)"/><use href="#c" transform="rotate(-10.15) translate(20) rotate(10.15)"/>
<use href="#c" transform="rotate(-10.6) translate(20) rotate(10.6)"/><use href="#c" transform="rotate(-11.1) translate(20) rotate(11.1)"/><use href="#c" transform="rotate(-11.6) translate(20) rotate(11.6)"/><use href="#c" transform="rotate(-12.1) translate(20) rotate(12.1)"/><use href="#c" transform="rotate(-12.6) translate(20) rotate(12.6)"/><use href="#c" transform="rotate(-13.1) translate(20) rotate(13.1)"/><use href="#c" transform="rotate(-13.6) translate(20) rotate(13.6)"/><use href="#c" transform="rotate(-14) translate(20) rotate(14)"/><use href="#c" transform="rotate(-14.5) translate(20) rotate(14.5)"/><use href="#c" transform="rotate(-15.1) translate(20) rotate(15.1)"/><use href="#c" transform="rotate(-15.6) translate(20) rotate(15.6)"/><use href="#c" transform="rotate(-16.1) translate(20) rotate(16.1)"/><use href="#c" transform="rotate(-16.6) translate(20) rotate(16.6)"/><use href="#c" transform="rotate(-17.2) translate(20) rotate(17.2)"/><use href="#c" transform="rotate(-17.7) translate(20) rotate(17.7)"/><use href="#c" transform="rotate(-18.2) translate(20) rotate(18.2)"/><use href="#c" transform="rotate(-18.7) translate(20) rotate(18.7)"/><use href="#c" transform="rotate(-19.3) translate(20) rotate(19.3)"/><use href="#c" transform="rotate(-19.9) translate(20) rotate(19.9)"/><use href="#c" transform="rotate(-20.5) translate(20) rotate(20.5)"/><use href="#c" transform="rotate(-21.1) translate(20) rotate(21.1)"/><use href="#c" transform="rotate(-21.7) translate(20) rotate(21.7)"/><use href="#c" transform="rotate(-22.3) translate(20) rotate(22.3)"/><use href="#c" transform="rotate(-22.9) translate(20) rotate(22.9)"/><use href="#c" transform="rotate(-23.6) translate(20) rotate(23.6)"/><use href="#c" transform="rotate(-24.2) translate(20) rotate(24.2)"/><use href="#c" transform="rotate(-24.9) translate(20) rotate(24.9)"/>
<use href="#c" transform="rotate(-26) translate(20) rotate(26)"/><use href="#c" transform="rotate(-26.8) translate(20) rotate(26.8)"/><use href="#c" transform="rotate(-27.5) translate(20) rotate(27.5)"/><use href="#c" transform="rotate(-28.2) translate(20) rotate(28.2)"/><use href="#c" transform="rotate(-28.8) translate(20) rotate(28.8)"/><use href="#c" transform="rotate(-29.6) translate(20) rotate(29.6)"/><use href="#c" transform="rotate(-30.5) translate(20) rotate(30.5)"/><use href="#c" transform="rotate(-31.4) translate(20) rotate(31.4)"/><use href="#c" transform="rotate(-32.2) translate(20) rotate(32.2)"/><use href="#c" transform="rotate(-32.9) translate(20) rotate(32.9)"/><use href="#c" transform="rotate(-33.7) translate(20) rotate(33.7)"/><use href="#c" transform="rotate(-34.5) translate(20) rotate(34.5)"/><use href="#c" transform="rotate(-35.3) translate(20) rotate(35.3)"/><use href="#c" transform="rotate(-36.1) translate(20) rotate(36.1)"/><use href="#c" transform="rotate(-37) translate(20) rotate(37)"/><use href="#c" transform="rotate(-37.6) translate(20) rotate(37.6)"/><use href="#c" transform="rotate(-38.4) translate(20) rotate(38.4)"/><use href="#c" transform="rotate(-39.5) translate(20) rotate(39.5)"/><use href="#c" transform="rotate(-40.5) translate(20) rotate(40.5)"/><use href="#c" transform="rotate(-41.6) translate(20) rotate(41.6)"/><use href="#c" transform="rotate(-42.8) translate(20) rotate(42.8)"/><use href="#c" transform="rotate(-44) translate(20) rotate(44)"/><use href="#c" transform="rotate(-45.1) translate(20) rotate(45.1)"/>
</g>
</g>
<circle cx="388.7" cy="246.7" r="14" fill="#008000"/>
<circle cx="691.4" cy="246.7" r="14" fill="#ff0000"/>
<g fill="#262626">
<text x="389" y="27.3" font-size="22" text-anchor="middle">Prior distribution of putts from 20ft away</text>
<g font-size="17.6" text-anchor="end">
<text x="50" y="63.3">20</text><text x="50" y="111.1">15</text><text x="50" y="159">10</text><text x="50" y="206.9">5</text><text x="50" y="254.7">0</text><text x="50" y="302.5">−5</text><text x="50" y="350.4">−10</text><text x="50" y="398.3">−15</text><text x="50" y="446.1">−20</text>
</g>
<g font-size="17.6" text-anchor="middle">
<text x="85.98" y="477.7">−20</text><text x="161.7" y="477.7">−15</text><text x="237.4" y="477.7">−10</text><text x="313" y="477.7">−5</text><text x="388.7" y="477.7">0</text><text x="464.4" y="477.7">5</text><text x="540" y="477.7">10</text><text x="615.7" y="477.7">15</text><text x="691.4" y="477.7">20</text>
</g>
</g>
<circle cx="93.3" cy="400.3" r="14.2" fill="#008000"/>
<circle cx="93.3" cy="429.5" r="14.2" fill="#ff0000"/>
<g fill="#262626" font-size="18">
<text x="128.3" y="407">Start</text>
<text x="128.3" y="436">Goal</text>
</g>
</svg>
</body></html>
